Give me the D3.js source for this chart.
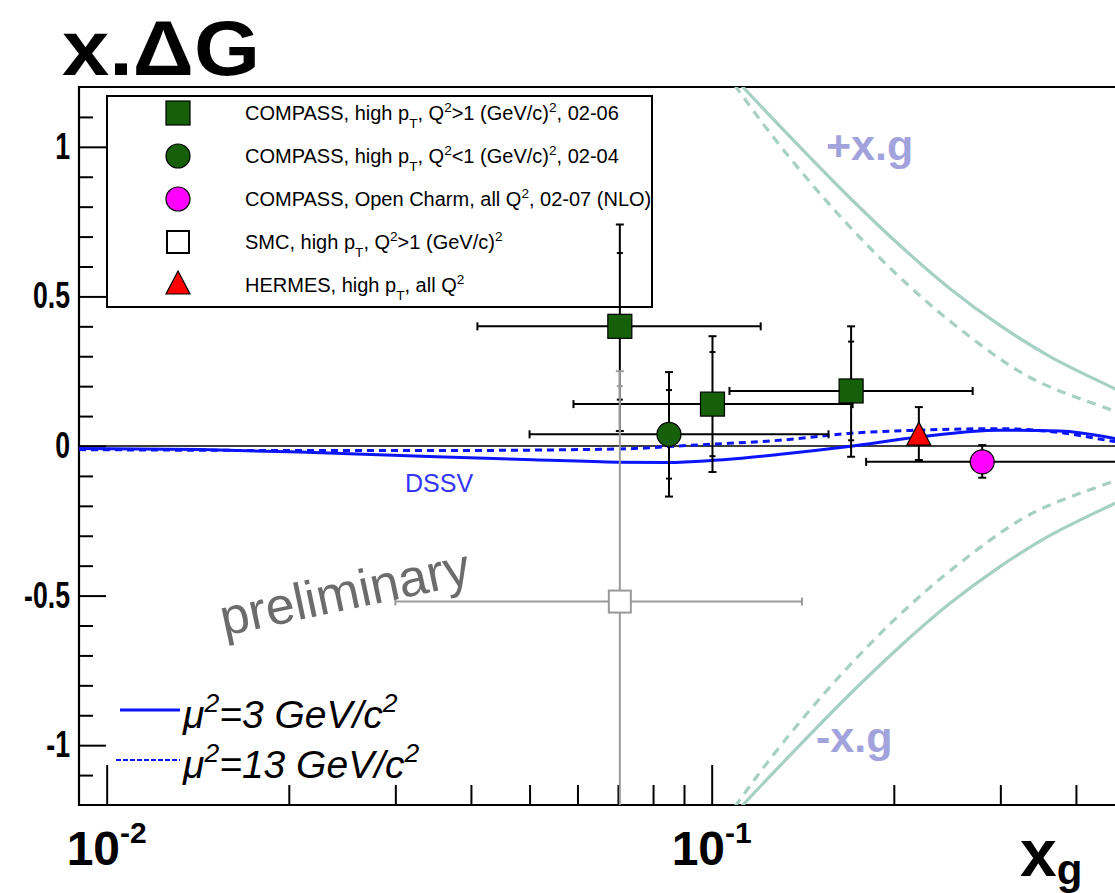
<!DOCTYPE html>
<html>
<head>
<meta charset="utf-8">
<script src="https://cdn.jsdelivr.net/npm/d3@7"></script>
<style>
  body { margin: 0; background: #fff; }
  svg { display: block; }
  text { font-family: Arial, "Liberation Sans", Helvetica, sans-serif; }
</style>
</head>
<body>
<svg id="chart" width="1115" height="893"></svg>
<script>
// ---- data ----
// COMPASS high pT, Q2>1 (squares)
const compassHiQ2 = [
  { x: 0.0705, y: 0.40, xlo: 0.041, xhi: 0.1205, stat: 0.245, up: 0.34, dn: 0.35 },
  { x: 0.1003, y: 0.14, xlo: 0.0591, xhi: 0.171, stat: 0.174, up: 0.227, dn: 0.227 },
  { x: 0.170, y: 0.184, xlo: 0.107, xhi: 0.270, stat: 0.165, up: 0.216, dn: 0.22 }
];
// COMPASS high pT, Q2<1 (circle)
const compassLoQ2 = [
  { x: 0.085, y: 0.039, xlo: 0.050, xhi: 0.156, stat: 0.148, up: 0.208, dn: 0.208 }
];
// COMPASS open charm (magenta)
const openCharm = [
  { x: 0.28, y: -0.053, xlo: 0.18, xhi: 0.5, stat: null, up: 0.056, dn: 0.053 }
];
// SMC (open square, grey)
const smc = [
  { x: 0.0705, y: -0.52, xlo: 0.030, xhi: 0.141, stat: 0.72, up: 0.77, dn: 0.77 }
];
// HERMES (triangle)
const hermes = [
  { x: 0.22, y: 0.033, xlo: null, xhi: null, stat: null, up: 0.097, dn: 0.08 }
];

// DSSV x.dG curves [x, x.dG]
const dssvMu3 = [[0.009, -0.008], [0.0143, -0.012], [0.0208, -0.02], [0.0351, -0.036], [0.0506, -0.046],
  [0.0701, -0.054], [0.0847, -0.055], [0.1008, -0.048], [0.1311, -0.027], [0.1685, -0.002],
  [0.2196, 0.03], [0.2987, 0.053], [0.376, 0.05], [0.464, 0.025], [0.5, 0.012]];
const dssvMu13 = [[0.009, -0.012], [0.0208, -0.015], [0.0369, -0.015], [0.0701, -0.01], [0.0955, 0.004],
  [0.131, 0.02], [0.1685, 0.042], [0.22, 0.053], [0.299, 0.058], [0.376, 0.045], [0.464, 0.015], [0.5, 0.006]];

// x.g envelope curves [x, x.g]  (drawn as +x.g and -x.g)
const xgMu3 = [[0.0949, 1.365], [0.1126, 1.2], [0.140, 0.999], [0.1693, 0.829], [0.2048, 0.670],
  [0.2477, 0.526], [0.2996, 0.403], [0.3624, 0.299], [0.4641, 0.191], [0.5, 0.158]];
const xgMu13 = [[0.0949, 1.38], [0.1097, 1.2], [0.1297, 1.004], [0.163, 0.768], [0.2048, 0.563],
  [0.2573, 0.391], [0.3358, 0.229], [0.4641, 0.116], [0.5, 0.092]];

// ticks
const yMajor = [-1, -0.5, 0, 0.5, 1];
const yMinor = [-1.1, -0.9, -0.8, -0.7, -0.6, -0.4, -0.3, -0.2, -0.1, 0.1, 0.2, 0.3, 0.4, 0.6, 0.7, 0.8, 0.9, 1.1];
const xMajor = [0.01, 0.1];
const xMinor = [0.02, 0.03, 0.04, 0.05, 0.06, 0.07, 0.08, 0.09, 0.2, 0.3, 0.4];
const xTickLabels = [['10', '-2'], ['10', '-1']];

const legendLabels = [
  [['COMPASS, high p'], ['T', 'sub'], [', Q'], ['2', 'sup'], ['>1 (GeV/c)'], ['2', 'sup'], [', 02-06']],
  [['COMPASS, high p'], ['T', 'sub'], [', Q'], ['2', 'sup'], ['<1 (GeV/c)'], ['2', 'sup'], [', 02-04']],
  [['COMPASS, Open Charm, all Q'], ['2', 'sup'], [', 02-07 (NLO)']],
  [['SMC, high p'], ['T', 'sub'], [', Q'], ['2', 'sup'], ['>1 (GeV/c)'], ['2', 'sup']],
  [['HERMES, high p'], ['T', 'sub'], [', all Q'], ['2', 'sup']]
];
const legendMarkers = ['square', 'circle', 'magenta', 'open', 'triangle'];
const muLabels = [[['\u03bc'], ['2', 'sup'], ['=3 GeV/c'], ['2', 'sup']],
                  [['\u03bc'], ['2', 'sup'], ['=13 GeV/c'], ['2', 'sup']]];

// ---- layout ----
const frame = { left: 79, top: 87, bottom: 805 };
const decade = 605;
const svg = d3.select('#chart');

const x = d3.scaleLog()
  .domain([0.009, 0.5])
  .range([frame.left, frame.left + decade * Math.log10(0.5 / 0.009)]);
const y = d3.scaleLinear()
  .domain([-1.2, 1.2])
  .range([frame.bottom, frame.top]);

const blue = '#0a14ff';
const teal = '#a6d0c4';
const green = '#166009';

svg.append('clipPath').attr('id', 'plot')
  .append('rect')
  .attr('x', frame.left).attr('y', frame.top)
  .attr('width', x.range()[1] - frame.left)
  .attr('height', frame.bottom - frame.top);

function richText(sel, parts, size) {
  let cur = 0;
  parts.forEach(([t, kind]) => {
    const target = kind === 'sup' ? -0.42 * size : kind === 'sub' ? 0.38 * size : 0;
    sel.append('tspan').text(t)
      .attr('dy', target - cur)
      .attr('font-size', kind ? size * 0.68 : size);
    cur = target;
  });
  return sel;
}

// ---- axes ----
function styleAxis(g) {
  g.select('.domain').remove();
  g.selectAll('line').attr('stroke', '#000').attr('stroke-width', 2);
}

svg.append('g')
  .attr('transform', `translate(${frame.left},0)`)
  .call(d3.axisLeft(y).tickValues(yMinor).tickSize(-14).tickFormat(''))
  .call(styleAxis);

const yAx = svg.append('g')
  .attr('transform', `translate(${frame.left},0)`)
  .call(d3.axisLeft(y).tickValues(yMajor).tickSize(-27).tickPadding(9).tickFormat(d => String(d)))
  .call(styleAxis);
yAx.selectAll('text')
  .attr('font-size', 36).attr('font-weight', 'bold')
  .attr('font-family', 'Arial, "Liberation Sans", sans-serif')
  .attr('fill', '#000')
  .attr('lengthAdjust', 'spacingAndGlyphs')
  .attr('textLength', function() { return this.getComputedTextLength() * 0.74; });

svg.append('g')
  .attr('transform', `translate(0,${frame.bottom})`)
  .call(d3.axisBottom(x).tickValues(xMinor).tickSize(-20).tickFormat(''))
  .call(styleAxis);
svg.append('g')
  .attr('transform', `translate(0,${frame.bottom})`)
  .call(d3.axisBottom(x).tickValues(xMajor).tickSize(-40).tickFormat(''))
  .call(styleAxis);

xMajor.forEach((v, i) => {
  const t = svg.append('text')
    .attr('x', x(v)).attr('y', frame.bottom + 60)
    .attr('text-anchor', 'middle')
    .attr('font-weight', 'bold');
  t.append('tspan').text(xTickLabels[i][0]).attr('font-size', 48);
  t.append('tspan').text(xTickLabels[i][1]).attr('font-size', 30).attr('dy', -22);
});

// axis titles
const xt = svg.append('text').attr('x', 1020).attr('y', 876).attr('font-weight', 'bold');
xt.append('tspan').text('x').attr('font-size', 66);
xt.append('tspan').text('g').attr('font-size', 42).attr('dy', 8);

svg.append('text')
  .attr('x', 62).attr('y', 75)
  .attr('font-size', 78).attr('font-weight', 'bold')
  .attr('textLength', 198).attr('lengthAdjust', 'spacingAndGlyphs')
  .text('x.\u0394G');

// ---- frame + zero line ----
svg.append('path')
  .attr('d', `M${x.range()[1]},${frame.top}H${frame.left}V${frame.bottom}H${x.range()[1]}`)
  .attr('fill', 'none').attr('stroke', '#000').attr('stroke-width', 2.2);

const plot = svg.append('g').attr('clip-path', 'url(#plot)');

plot.append('line')
  .attr('x1', x.range()[0]).attr('x2', x.range()[1])
  .attr('y1', y(0)).attr('y2', y(0))
  .attr('stroke', '#000').attr('stroke-width', 1.6);

// ---- x.g envelopes ----
const smooth = d3.line().x(d => x(d[0])).y(d => y(d[1])).curve(d3.curveCatmullRom.alpha(0.5));
[[xgMu3, null], [xgMu13, '9,7']].forEach(([data, dash]) => {
  [1, -1].forEach(s => {
    plot.append('path')
      .attr('d', smooth(data.map(d => [d[0], s * d[1]])))
      .attr('fill', 'none').attr('stroke', teal).attr('stroke-width', 3.2)
      .attr('stroke-dasharray', dash);
  });
});

// ---- legend box (drawn beneath the data) ----
const leg = svg.append('g');
leg.append('rect')
  .attr('x', 107).attr('y', 96).attr('width', 545).attr('height', 211)
  .attr('fill', 'none').attr('stroke', '#000').attr('stroke-width', 2);

// ---- DSSV ----
const curve = d3.line().x(d => x(d[0])).y(d => y(d[1])).curve(d3.curveMonotoneX);
plot.append('path').attr('d', curve(dssvMu3))
  .attr('fill', 'none').attr('stroke', blue).attr('stroke-width', 3);
plot.append('path').attr('d', curve(dssvMu13))
  .attr('fill', 'none').attr('stroke', blue).attr('stroke-width', 3)
  .attr('stroke-dasharray', '7,5');

// ---- markers ----
function marker(g, type, cx, cy) {
  if (type === 'square') {
    g.append('rect').attr('x', cx - 12).attr('y', cy - 12).attr('width', 24).attr('height', 24)
      .attr('fill', green).attr('stroke', '#000').attr('stroke-width', 1.2);
  } else if (type === 'circle' || type === 'magenta') {
    g.append('circle').attr('cx', cx).attr('cy', cy).attr('r', 12)
      .attr('fill', type === 'circle' ? green : '#ff00ff').attr('stroke', '#000').attr('stroke-width', 1.2);
  } else if (type === 'open' || type === 'openGrey') {
    g.append('rect').attr('x', cx - 11).attr('y', cy - 11).attr('width', 22).attr('height', 22)
      .attr('fill', '#fff').attr('stroke', type === 'open' ? '#000' : '#9a9a9a').attr('stroke-width', 2);
  } else if (type === 'triangle') {
    g.append('path').attr('d', `M${cx},${cy - 14}L${cx + 12},${cy + 9}L${cx - 12},${cy + 9}Z`)
      .attr('fill', '#ff0000').attr('stroke', '#000').attr('stroke-width', 1.2);
  }
}

function errorBars(data, color) {
  const g = plot.append('g').attr('stroke', color).attr('stroke-width', 2).attr('fill', 'none');
  data.forEach(d => {
    const cx = x(d.x), cy = y(d.y);
    if (d.xlo != null) {
      g.append('line').attr('x1', x(d.xlo)).attr('x2', x(d.xhi)).attr('y1', cy).attr('y2', cy);
      [d.xlo, d.xhi].forEach(v => g.append('line')
        .attr('x1', x(v)).attr('x2', x(v)).attr('y1', cy - 4).attr('y2', cy + 4));
    }
    const top = y(d.y + d.up), bot = y(d.y - d.dn);
    g.append('line').attr('x1', cx).attr('x2', cx).attr('y1', top).attr('y2', bot);
    [top, bot].forEach(v => g.append('line')
      .attr('x1', cx - 4).attr('x2', cx + 4).attr('y1', v).attr('y2', v));
    if (d.stat != null) {
      [y(d.y + d.stat), y(d.y - d.stat)].forEach(v => g.append('line')
        .attr('x1', cx - 3).attr('x2', cx + 3).attr('y1', v).attr('y2', v));
    }
  });
}

errorBars(compassHiQ2, '#000');
errorBars(compassLoQ2, '#000');
errorBars(hermes, '#000');
errorBars(openCharm, '#000');
errorBars(smc, '#9a9a9a');

const mk = plot.append('g');
compassHiQ2.forEach(d => marker(mk, 'square', x(d.x), y(d.y)));
compassLoQ2.forEach(d => marker(mk, 'circle', x(d.x), y(d.y)));
openCharm.forEach(d => marker(mk, 'magenta', x(d.x), y(d.y)));
smc.forEach(d => marker(mk, 'openGrey', x(d.x), y(d.y)));
hermes.forEach(d => marker(mk, 'triangle', x(d.x), y(d.y)));

// ---- legend entries ----
legendLabels.forEach((parts, i) => {
  const ry = 113 + i * 43;
  marker(leg, legendMarkers[i], 178, ry);
  richText(leg.append('text').attr('x', 245).attr('y', ry + 7).attr('fill', '#000'), parts, 20);
});

// ---- annotations ----
svg.append('text').attr('x', 405).attr('y', 492)
  .attr('font-size', 25).attr('fill', '#3535f5').text('DSSV');

svg.append('text').attr('x', 826).attr('y', 160)
  .attr('font-size', 43).attr('font-weight', 'bold').attr('fill', '#a2a2dc').text('+x.g');
svg.append('text').attr('x', 816).attr('y', 752)
  .attr('font-size', 43).attr('font-weight', 'bold').attr('fill', '#a2a2dc').text('-x.g');

svg.append('text')
  .attr('transform', 'translate(224,636) rotate(-12)')
  .attr('font-size', 52).attr('fill', '#6c6c6c').text('preliminary');

// mu legend
[[710, null], [760, '5,2']].forEach(([ly, dash], i) => {
  svg.append('line').attr('x1', dash ? 116 : 120).attr('x2', 180).attr('y1', ly).attr('y2', ly)
    .attr('stroke', blue).attr('stroke-width', dash ? 2 : 3).attr('stroke-dasharray', dash);
  richText(svg.append('text').attr('x', 183).attr('y', ly + 18)
    .attr('font-style', 'italic').attr('fill', '#000'), muLabels[i], 39);
});
</script>
</body>
</html>
